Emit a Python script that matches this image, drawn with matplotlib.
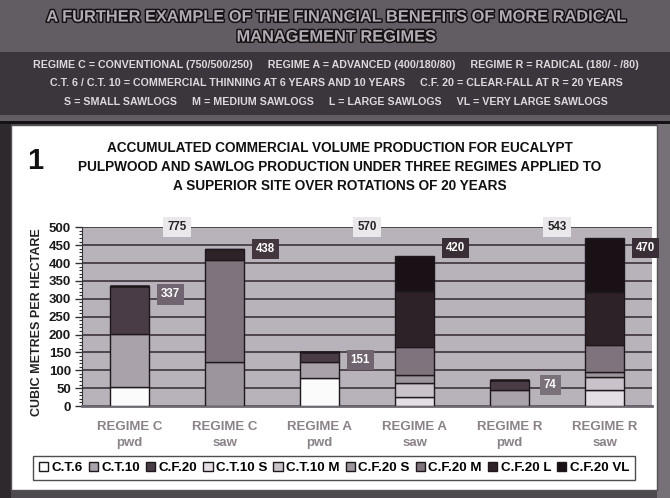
import numpy as np
import matplotlib
matplotlib.use("Agg")
from matplotlib import pyplot as plt
from matplotlib.patches import Rectangle
import matplotlib.patheffects as pe

plt.rcParams['font.family'] = ['Liberation Sans', 'DejaVu Sans']

# categories on the x axis
regimes = ["REGIME C\npwd", "REGIME C\nsaw", "REGIME A\npwd",
           "REGIME A\nsaw", "REGIME R\npwd", "REGIME R\nsaw"]

# stacked series, m3/ha, in stacking order (bottom to top)
series_names = ["C.T.6", "C.T.10", "C.F.20", "C.T.10 S", "C.T.10 M",
                "C.F.20 S", "C.F.20 M", "C.F.20 L", "C.F.20 VL"]
ct6 = [52, 0, 78, 0, 0, 0]
ct10 = [150, 0, 46, 0, 44, 0]
cf20 = [135, 0, 27, 0, 30, 0]
ct10_s = [0, 0, 0, 26, 0, 45]
ct10_m = [0, 0, 0, 38, 0, 37]
cf20_s = [0, 123, 0, 24, 0, 14]
cf20_m = [0, 285, 0, 78, 0, 75]
cf20_l = [0, 30, 0, 155, 0, 149]
cf20_vl = [0, 0, 0, 99, 0, 150]

# bar totals and per-regime totals (pwd + saw)
bar_totals = [337, 438, 151, 420, 74, 470]
regime_totals = [775, 570, 543]

series_colors = ["#fbfbfb", "#aaa2aa", "#4a3c46", "#e4dfe5", "#c9c3c9",
                 "#9d959d", "#7f747e", "#2e2229", "#1a1117"]
label_colors = ["#6f6470", "#43363f", "#6f6470", "#3a2e36", "#7a7078", "#3a2e36"]
label_dy = [-25, 0, -22, 21, -15, -29]

fig = plt.figure(figsize=(6.7, 4.98), dpi=100)
fig.patch.set_facecolor("#4e494e")


def fig_rect(x0, y0, w, h, **kw):
    # rectangle given in pixel units from the top-left corner
    r = Rectangle((x0 / 670, 1 - (y0 + h) / 498), w / 670, h / 498,
                  transform=fig.transFigure, zorder=-5, **kw)
    fig.patches.append(r)


# header blocks, side frame and white panel
fig_rect(0, 0, 670, 122, fc="#625d62", ec="none")
fig_rect(0, 52, 670, 63, fc="#3b363b", ec="none")
fig_rect(0, 121, 670, 3, fc="#151215", ec="none")
fig_rect(0, 124, 11, 374, fc="#2e292d", ec="none")
fig_rect(657, 124, 13, 374, fc="#767176", ec="none")
fig_rect(11, 125, 646, 365, fc="white", ec="#555055", lw=1)

outline = [pe.withStroke(linewidth=2.2, foreground="#141114")]
fig.text(0.502, 1 - 17 / 498, "A FURTHER EXAMPLE OF THE FINANCIAL BENEFITS OF MORE RADICAL",
         ha="center", va="center", fontsize=11.8, fontweight="bold", color="#b2adb2",
         path_effects=outline)
fig.text(0.502, 1 - 37 / 498, "MANAGEMENT REGIMES", ha="center", va="center",
         fontsize=11.8, fontweight="bold", color="#b2adb2", path_effects=outline)

key_lines = [
    "REGIME C = CONVENTIONAL (750/500/250)     REGIME A = ADVANCED (400/180/80)     REGIME R = RADICAL (180/ - /80)",
    "C.T. 6 / C.T. 10 = COMMERCIAL THINNING AT 6 YEARS AND 10 YEARS     C.F. 20 = CLEAR-FALL AT R = 20 YEARS",
    "S = SMALL SAWLOGS     M = MEDIUM SAWLOGS     L = LARGE SAWLOGS     VL = VERY LARGE SAWLOGS",
]
for i, line in enumerate(key_lines):
    fig.text(0.502, 1 - (65 + 18.5 * i) / 498, line, ha="center", va="center",
             fontsize=7.7, fontweight="bold", color="#dcd8dc")

# chart title
fig.text(35 / 670, 1 - 161 / 498, "1", ha="center", va="center",
         fontsize=21, fontweight="bold", color="#111")
title = ["ACCUMULATED COMMERCIAL VOLUME PRODUCTION FOR EUCALYPT",
         "PULPWOOD AND SAWLOG PRODUCTION UNDER THREE REGIMES APPLIED TO",
         "A SUPERIOR SITE OVER ROTATIONS OF 20 YEARS"]
for i, line in enumerate(title):
    fig.text(340 / 670, 1 - (148 + 19 * i) / 498, line, ha="center", va="center",
             fontsize=9.8, fontweight="bold", color="#111")

ax = fig.add_axes([82 / 670, 1 - 406 / 498, 570 / 670, 178.7 / 498])
ax.set_facecolor("#b8b2ba")

x = np.arange(len(regimes))
stack = [ct6, ct10, cf20, ct10_s, ct10_m, cf20_s, cf20_m, cf20_l, cf20_vl]
bottom = np.zeros(len(regimes))
handles = []
for name, vals, col in zip(series_names, stack, series_colors):
    vals = np.array(vals, dtype=float)
    b = ax.bar(x, vals, 0.42, bottom=bottom, color=col, edgecolor="#1e181c",
               linewidth=1.0, label=name, zorder=3)
    handles.append(b)
    bottom += vals

# value tags beside each bar
for xi, tot, c, dy in zip(x, bar_totals, label_colors, label_dy):
    ax.text(xi + 0.43, tot + dy, str(tot), ha="center", va="center", fontsize=8.3,
            fontweight="bold", color="white", zorder=5, clip_on=False,
            bbox=dict(boxstyle="square,pad=0.35", fc=c, ec="none"))

# regime totals across each pwd/saw pair
for k, tot in enumerate(regime_totals):
    ax.text(2 * k + 0.5, 500, str(tot), ha="center", va="center", fontsize=8.3,
            fontweight="bold", color="#222", zorder=5, clip_on=False,
            bbox=dict(boxstyle="square,pad=0.35", fc="#ebe8eb", ec="none"))

ax.set_xlim(-0.5, 5.5)
ax.set_ylim(0, 500)
ax.set_yticks(np.arange(0, 501, 50))
ax.set_yticks(np.arange(0, 501, 10), minor=True)
ax.yaxis.grid(True, color="#3e353b", linewidth=1.2, zorder=1)
ax.set_axisbelow(True)
ax.set_xticks(x)
ax.set_xticklabels(regimes, fontsize=9.5, fontweight="bold", color="#8a8288",
                   linespacing=1.4)
ax.tick_params(axis="x", length=0, pad=11)
ax.tick_params(axis="y", which="major", direction="out", length=5, width=1,
               labelsize=9.5, color="#333", pad=3)
ax.tick_params(axis="y", which="minor", direction="out", length=2.5, width=0.8, color="#333")
for lab in ax.get_yticklabels():
    lab.set_fontweight("bold")
    lab.set_color("#1a1a1a")
for s in ["top", "right"]:
    ax.spines[s].set_visible(False)
ax.spines["left"].set_color("#333")
ax.spines["bottom"].set_color("#6d6770")
ax.spines["bottom"].set_linewidth(2)

fig.text(37 / 670, 1 - 322 / 498, "CUBIC METRES PER HECTARE", rotation=90,
         ha="center", va="center", fontsize=9, fontweight="bold", color="#222")

leg = fig.legend(handles=handles, labels=series_names, loc="center",
                 bbox_to_anchor=(334 / 670, 1 - 468 / 498), ncol=9,
                 prop={"weight": "bold", "size": 9.6},
                 handlelength=0.7, handleheight=0.7, handletextpad=0.25,
                 columnspacing=0.45, borderpad=0.45, frameon=True, fancybox=False)
leg.get_frame().set_edgecolor("#222")
leg.get_frame().set_linewidth(1)

fig.savefig("out.png", dpi=100, facecolor=fig.get_facecolor())
